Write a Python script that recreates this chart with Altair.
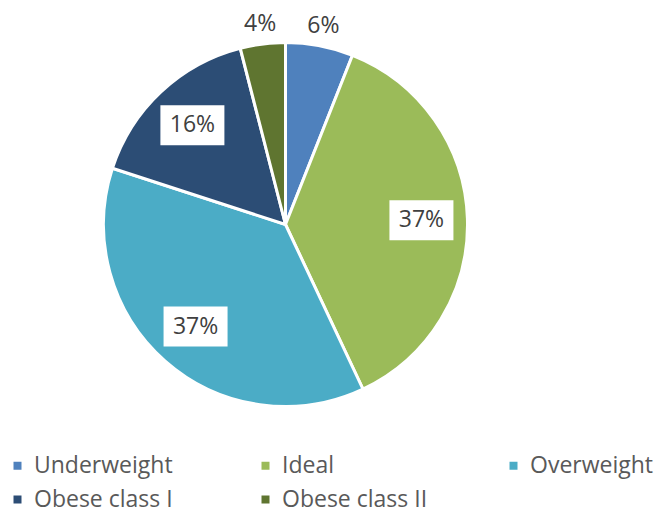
import altair as alt
import pandas as pd

categories = ["Underweight", "Ideal", "Overweight", "Obese class I", "Obese class II"]
values = [6, 37, 37, 16, 4]
colors = ["#4F81BD", "#9BBB59", "#4BACC6", "#2C4D75", "#5F7530"]

df = pd.DataFrame({"category": categories, "value": values, "idx": list(range(len(categories)))})

CX, CY = 277.5, 216.5
R = 182
R_IN, R_OUT = 136, 202
BOX_W, BOX_H = 64, 40

pie = alt.Chart(df).mark_arc(radius=R, stroke="white", strokeWidth=3).encode(
    theta=alt.Theta("value:Q", stack=True),
    order=alt.Order("idx:Q"),
    color=alt.Color(
        "category:N",
        sort=categories,
        scale=alt.Scale(domain=categories, range=colors),
        legend=alt.Legend(
            orient="none", legendX=-2, legendY=446, direction="horizontal",
            columns=3, gridAlign="all", columnPadding=74, rowPadding=10,
            symbolType="square", symbolSize=64, symbolStrokeWidth=0,
            labelFont="Open Sans", labelFontSize=23, labelColor="#595959",
            labelOffset=5, labelLimit=0, title=None,
        ),
    ),
    x=alt.value(CX),
    y=alt.value(CY),
)

base = (
    alt.Chart(df)
    .transform_joinaggregate(total="sum(value)")
    .transform_window(cum="sum(value)", sort=[alt.SortField("idx")], frame=[None, 0])
    .transform_calculate(
        mid="2*PI*(datum.cum - datum.value/2)/datum.total",
        r=f"datum.value >= 10 ? {R_IN} : {R_OUT}",
    )
    .transform_calculate(
        px=f"{CX} + datum.r*sin(datum.mid)",
        py=f"{CY} - datum.r*cos(datum.mid)",
        label="datum.value + '%'",
    )
    .transform_calculate(
        x1=f"datum.px - {BOX_W/2}", x2=f"datum.px + {BOX_W/2}",
        y1=f"datum.py - {BOX_H/2}", y2=f"datum.py + {BOX_H/2}",
    )
)

boxes = base.transform_filter("datum.value >= 10").mark_rect(fill="white").encode(
    x=alt.X("x1:Q", scale=None, axis=None),
    x2="x2:Q",
    y=alt.Y("y1:Q", scale=None, axis=None),
    y2="y2:Q",
)

labels = base.mark_text(font="Open Sans", fontSize=23, color="#404040", align="center", baseline="middle").encode(
    x=alt.X("px:Q", scale=None, axis=None),
    y=alt.Y("py:Q", scale=None, axis=None),
    text="label:N",
)

chart = (
    alt.layer(pie, boxes, labels)
    .properties(width=652, height=500, autosize="none", padding=0)
    .configure_view(stroke=None)
)

chart.save("out.html", embed_options={"renderer": "svg", "actions": False})
